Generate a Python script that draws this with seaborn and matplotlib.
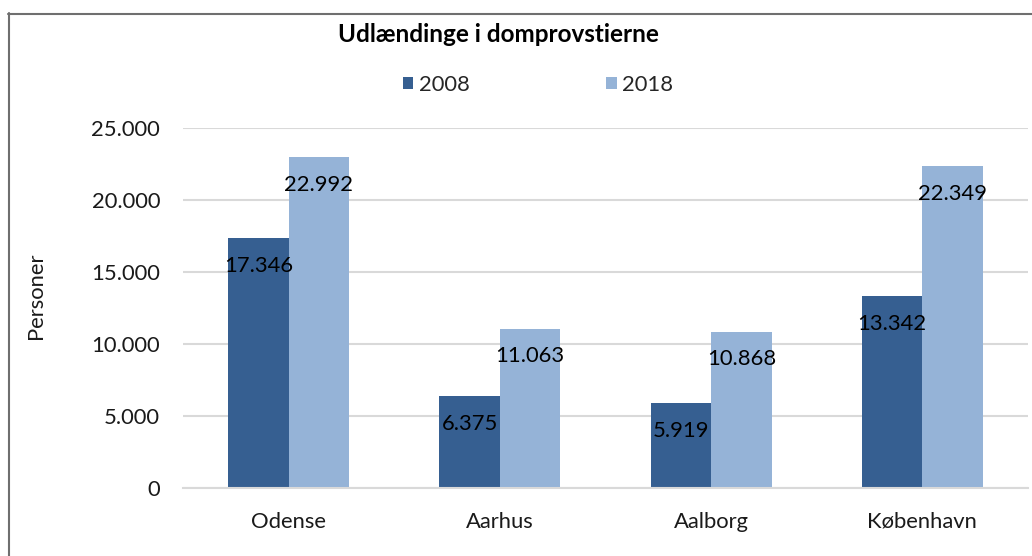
import matplotlib
matplotlib.use("Agg")
import matplotlib.pyplot as plt
import seaborn as sns
import pandas as pd
from matplotlib.lines import Line2D
from matplotlib.patches import Patch

categories = ["Odense", "Aarhus", "Aalborg", "København"]
years = ["2008", "2018"]
values_2008 = [17346, 6375, 5919, 13342]
values_2018 = [22992, 11063, 10868, 22349]
yticks = [0, 5000, 10000, 15000, 20000, 25000]
title = "Udlændinge i domprovstierne"
ylabel = "Personer"
colors = ["#365F91", "#95B3D7"]

df = pd.DataFrame({
    "Domprovsti": categories * 2,
    "År": [years[0]] * 4 + [years[1]] * 4,
    "Personer": values_2008 + values_2018,
})

sns.set_theme(style="white")
plt.rcParams["font.family"] = ["Lato", "DejaVu Sans"]

W, H = 1032, 556
fig = plt.figure(figsize=(W / 100, H / 100), dpi=100)
ax = fig.add_axes([183 / W, 1 - 488 / H, (1028 - 183) / W, (488 - 128) / H])

sns.barplot(data=df, x="Domprovsti", y="Personer", hue="År", palette=colors,
            width=0.573, gap=0, ax=ax, legend=False, saturation=1, linewidth=0)

FS = 15.8
ax.set_ylim(0, 25000)
ax.set_xlim(-0.5, 3.5)
ax.set_yticks(yticks)
ax.set_yticklabels([f"{v:,}".replace(",", ".") for v in yticks])
ax.yaxis.grid(True, color="#D9D9D9", linewidth=1.5)
ax.set_axisbelow(True)
for s in ["top", "right", "left"]:
    ax.spines[s].set_visible(False)
ax.spines["bottom"].set_color("#D9D9D9")
ax.spines["bottom"].set_linewidth(1.5)
ax.tick_params(axis="both", length=0, labelsize=FS, colors="#1a1a1a")
ax.tick_params(axis="y", pad=16.5)
ax.tick_params(axis="x", pad=17)
ax.set_xlabel("")
ax.set_ylabel(ylabel, fontsize=FS, color="#1a1a1a")
ax.yaxis.set_label_coords((36 - 183) / (1028 - 183), 0.535)
ax.yaxis.label.set_va("center")

for p in ax.patches:
    h = p.get_height()
    if h <= 0:
        continue
    ax.annotate(f"{int(round(h)):,}".replace(",", "."),
                (p.get_x() + p.get_width() / 2, h),
                xytext=(0, -20), textcoords="offset points",
                ha="center", va="center", fontsize=FS, color="black")

fig.text(498 / W, 1 - 35 / H, title, ha="center", va="center",
         fontsize=17.5, fontweight="bold", color="black")

handles = [Patch(facecolor=c, edgecolor="none") for c in colors]
fig.legend(handles, years, loc="center", bbox_to_anchor=(538 / W, 1 - 85 / H),
           ncol=2, frameon=False, fontsize=FS, handlelength=0.5, handleheight=0.5,
           handletextpad=0.25, columnspacing=6.2)

border_color = "#6F6F6F"
fig.add_artist(Line2D([8.5 / W, 8.5 / W], [0, 1 - 13 / H], transform=fig.transFigure,
                      color=border_color, linewidth=1.5))
fig.add_artist(Line2D([8 / W, 1], [1 - 13.5 / H, 1 - 13.5 / H], transform=fig.transFigure,
                      color=border_color, linewidth=1.5))

fig.savefig("out.png", dpi=100)
